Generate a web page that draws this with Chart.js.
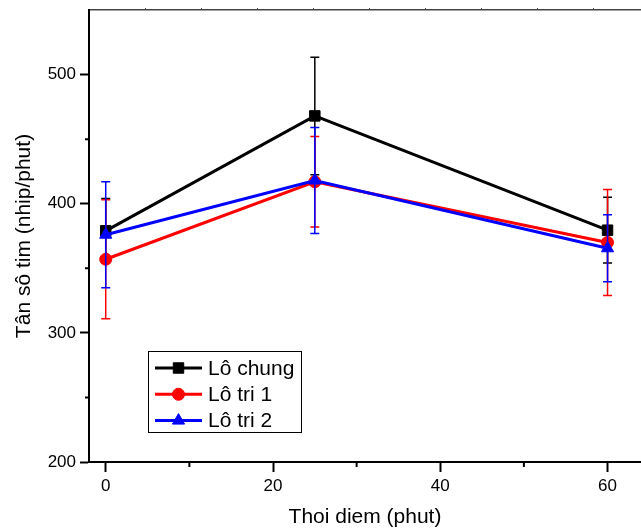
<!DOCTYPE html>
<html>
<head>
<meta charset="utf-8">
<script src="https://cdn.jsdelivr.net/npm/chart.js@4.4.0/dist/chart.umd.min.js"></script>
<style>
  html, body { margin: 0; padding: 0; background: #fff; }
</style>
</head>
<body>
<canvas id="wykres" width="641" height="530"></canvas>
<script>
// dane
const czas = [0, 25, 60];
const loChung = [379, 468, 379.5];
const loChungSd = [25, 45.5, 25.5];
const loTri1 = [357, 417, 370];
const loTri1Sd = [46, 35, 41];
const loTri2 = [376, 418, 365.5];
const loTri2Sd = [41, 41, 26];
const nazwy = ['Lô chung', 'Lô tri 1', 'Lô tri 2'];

const xTicks = [0, 20, 40, 60];
const xMinor = [10, 30, 50];
const yTicks = [200, 300, 400, 500];
const yMinor = [250, 350, 450];
const topTicks = [0, 1, 2, 3, 4, 5, 6, 7, 8];

const FONT = "'Liberation Sans', Arial, sans-serif";

const punkty = (ys) => czas.map((x, i) => ({ x: x, y: ys[i] }));

// bez dodatkowych marginesow od etykiet
const bezMarginesow = (s, size) => {
  if (s.isHorizontal()) s.height = size; else s.width = size;
  s.paddingTop = 0; s.paddingBottom = 0;
  s.paddingLeft = 0; s.paddingRight = 0;
};

// slupki bledow rysowane zaraz po kazdej serii
const bledy = {
  id: 'bledy',
  afterDatasetDraw(chart, args) {
    const ds = chart.data.datasets[args.index];
    const ctx = chart.ctx;
    const sx = chart.scales.x, sy = chart.scales.y;
    ctx.save();
    ctx.strokeStyle = ds.borderColor;
    ctx.lineWidth = 1.5;
    ds.data.forEach((p, i) => {
      const px = sx.getPixelForValue(p.x);
      const top = sy.getPixelForValue(p.y + ds.sd[i]);
      const bot = sy.getPixelForValue(p.y - ds.sd[i]);
      ctx.beginPath();
      ctx.moveTo(px, top); ctx.lineTo(px, bot);
      ctx.moveTo(px - 4.5, top); ctx.lineTo(px + 4.5, top);
      ctx.moveTo(px - 4.5, bot); ctx.lineTo(px + 4.5, bot);
      ctx.stroke();
    });
    ctx.restore();
  }
};

// drobne kreski osi
const kreski = {
  id: 'kreski',
  afterDraw(chart) {
    const ctx = chart.ctx;
    const sx = chart.scales.x, sy = chart.scales.y;
    const a = chart.chartArea;
    ctx.save();
    ctx.strokeStyle = '#000';
    ctx.lineWidth = 2;
    ctx.beginPath();
    xMinor.forEach(v => {
      const px = sx.getPixelForValue(v);
      ctx.moveTo(px, a.bottom); ctx.lineTo(px, a.bottom + 5);
    });
    yMinor.forEach(v => {
      const py = sy.getPixelForValue(v);
      ctx.moveTo(a.left, py); ctx.lineTo(a.left - 4, py);
    });
    ctx.stroke();
    ctx.restore();
  }
};

// legenda w srodku wykresu
const legenda = {
  id: 'legenda',
  afterDraw(chart) {
    const ctx = chart.ctx;
    ctx.save();
    ctx.strokeStyle = '#000';
    ctx.lineWidth = 1;
    ctx.strokeRect(148.5, 351.5, 153, 81);
    const ds = chart.data.datasets;
    nazwy.forEach((n, i) => {
      const d = ds.find(x => x.label === n);
      const y = 368 + i * 26.3;
      ctx.strokeStyle = d.borderColor;
      ctx.fillStyle = d.borderColor;
      ctx.lineWidth = 3;
      ctx.beginPath();
      ctx.moveTo(155, y); ctx.lineTo(202, y);
      ctx.stroke();
      ctx.lineWidth = 1;
      Chart.helpers.drawPoint(ctx, { pointStyle: d.pointStyle, radius: d.pointRadius, rotation: 0, borderWidth: 1 }, 178.5, y);
      ctx.fillStyle = '#000';
      ctx.font = '21px ' + FONT;
      ctx.textBaseline = 'middle';
      ctx.textAlign = 'left';
      ctx.fillText(n, 208, y + 1);
    });
    ctx.restore();
  }
};

const ctx = document.getElementById('wykres').getContext('2d');

new Chart(ctx, {
  type: 'line',
  data: {
    datasets: [
      {
        label: 'Lô tri 2',
        data: punkty(loTri2),
        sd: loTri2Sd,
        borderColor: '#0000ff',
        backgroundColor: '#0000ff',
        borderWidth: 3,
        pointStyle: 'triangle',
        pointRadius: 7,
        pointBorderWidth: 1,
        tension: 0
      },
      {
        label: 'Lô tri 1',
        data: punkty(loTri1),
        sd: loTri1Sd,
        borderColor: '#ff0000',
        backgroundColor: '#ff0000',
        borderWidth: 3,
        pointStyle: 'circle',
        pointRadius: 6,
        pointBorderWidth: 1,
        tension: 0
      },
      {
        label: 'Lô chung',
        data: punkty(loChung),
        sd: loChungSd,
        borderColor: '#000000',
        backgroundColor: '#000000',
        borderWidth: 3,
        pointStyle: 'rect',
        pointRadius: 7.4,
        pointBorderWidth: 1,
        tension: 0
      }
    ]
  },
  options: {
    responsive: false,
    animation: false,
    layout: { padding: 0, autoPadding: false },
    plugins: {
      legend: { display: false },
      tooltip: { enabled: false }
    },
    scales: {
      x: {
        type: 'linear',
        position: 'bottom',
        min: -2,
        max: 64,
        afterBuildTicks: s => { s.ticks = xTicks.map(v => ({ value: v })); },
        afterFit: s => bezMarginesow(s, 68),
        grid: { drawOnChartArea: false, tickLength: 10, tickWidth: 2, tickColor: '#000' },
        border: { color: '#000', width: 2 },
        ticks: { color: '#000', font: { size: 17, family: FONT }, padding: 4, maxRotation: 0 },
        title: { display: true, text: 'Thoi diem (phut)', color: '#000', font: { size: 21, family: FONT }, padding: { top: 0, bottom: 0 } }
      },
      x2: {
        type: 'linear',
        position: 'top',
        min: -1,
        max: 8.857,
        afterBuildTicks: s => { s.ticks = topTicks.map(v => ({ value: v })); },
        afterFit: s => bezMarginesow(s, 10),
        grid: { drawOnChartArea: false, tickLength: 2, tickWidth: 1, tickColor: '#555' },
        border: { color: '#444', width: 1.5 },
        ticks: { display: false }
      },
      y: {
        min: 200,
        max: 550,
        afterBuildTicks: s => { s.ticks = yTicks.map(v => ({ value: v })); },
        afterFit: s => bezMarginesow(s, 89),
        grid: { drawOnChartArea: false, tickLength: 9, tickWidth: 2, tickColor: '#000' },
        border: { color: '#000', width: 2 },
        ticks: { color: '#000', font: { size: 17, family: FONT }, padding: 4 },
        title: { display: true, text: 'Tân sô tim (nhip/phut)', color: '#000', font: { size: 21, family: FONT }, padding: { top: 12, bottom: 0 } }
      }
    }
  },
  plugins: [bledy, kreski, legenda]
});
</script>
</body>
</html>
